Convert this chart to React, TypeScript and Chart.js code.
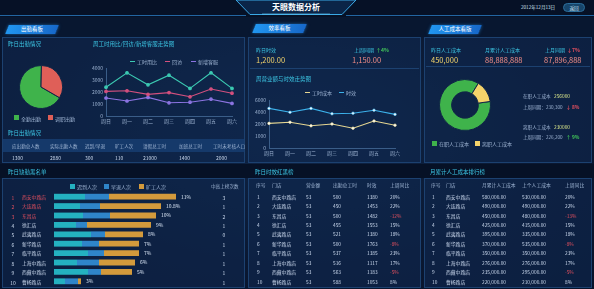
import React, { useEffect, useRef } from "react";
import { Chart, registerables } from "chart.js";

Chart.register(...registerables);

const FONT = '"Noto Sans CJK SC", "Noto Sans", sans-serif';

// ---------- data ----------
const weekDays = ["周日", "周一", "周二", "周三", "周四", "周五", "周六"];
const attSeriesNames = ["工时用比", "回访", "新增客服"];
const workRatio = [2400, 3600, 2600, 3400, 2300, 3600, 2300];
const revisit = [2050, 2100, 1800, 1950, 1600, 2250, 1900];
const newService = [1500, 1250, 1550, 1100, 1150, 1400, 1050];

const pieLabels = ["全勤出勤", "调职出勤"];
const pieValues = [67, 33];

const effSeriesNames = ["工时成本", "时效"];
const laborCost = [4100, 4300, 3700, 4000, 3300, 4500, 3800];
const efficiency = [6600, 5950, 6600, 5700, 5800, 6300, 5600];
const effYTickLabels = ["0", "1000", "2000", "4000", "6000"];

const attHeaders = ["应出勤总人数", "实际出勤人数", "迟到/早退", "旷工人次", "请假总工时", "加班总工时", "工时未考核人口"];
const attValues = ["1300", "2880", "300", "110", "21000", "1400", "2000"];

const storeNames = ["西安中路店", "大连路店", "东昌店", "徐汇店", "武夷路店", "新华路店", "临平路店", "上海中路店", "西藏中路店", "曹杨路店"];
const barSeriesNames = ["迟到人次", "早退人次", "旷工人次"];
const lateCounts = [31, 26, 29, 22, 37, 28, 34, 23, 34, 11];
const earlyCounts = [24, 20, 27, 11, 14, 17, 16, 22, 13, 13];
const absentCounts = [67, 61, 46, 64, 38, 40, 35, 36, 31, 3];
const barPercents = ["11%", "10.8%", "10%", "9%", "8%", "7%", "7%", "6%", "5%", "3%"];
const blacklistTimes = [3, 1, 2, 1, 0, 1, 1, 1, 1, 1];

const effHeaders = ["序号", "门店", "营业额", "出勤总工时", "时效", "上周同比"];
const effRevenue = [53, 53, 53, 53, 53, 53, 53, 53, 53, 53];
const effHours = [500, 450, 500, 455, 521, 500, 537, 516, 563, 588];
const effValues = [1380, 1453, 1482, 1553, 1380, 1763, 1385, 1117, 1183, 1053];
const effYoY = ["20%", "22%", "-12%", "15%", "18%", "-8%", "23%", "17%", "-5%", "8%"];

const costHeaders = ["序号", "门店", "月累计人工成本", "上个人工成本", "上周同比"];
const costMonth = ["580,000.00", "490,000.00", "450,000.00", "425,000.00", "395,000.00", "370,000.00", "350,000.00", "276,000.00", "235,000.00", "220,000.00"];
const costLast = ["530,000.00", "490,000.00", "480,000.00", "415,000.00", "335,000.00", "535,000.00", "350,000.00", "276,000.00", "295,000.00", "210,000.00"];
const costYoY = ["20%", "22%", "-13%", "15%", "18%", "-8%", "23%", "17%", "-5%", "8%"];

const donutLabels = ["在职人工成本", "离职人工成本"];
const donutValues = [86, 14];

// ---------- styles ----------
const C = {
  teal: "#3cc6e4",
  text: "#cbd9ee",
  dim: "#9cb2d1",
  yellow: "#f2d36b",
  pink: "#ef8c86",
  red: "#e5505f",
  green: "#41c259",
  border: "#1c4170",
  panel: "rgba(16,42,82,0.55)",
};
const lineColors = ["#3ccab2", "#d4507e", "#8c74e2"];
const effColors = ["#e6d792", "#3cb1ea"];
const barColors = ["#24b1c0", "#2f85c9", "#d39a3c"];
const pieColors = ["#3fb34b", "#df5f58"];
const donutColors = ["#3fb34b", "#f5d36a"];

const rowY = (i: number) => 196.8 + i * 9.42;

function T({ x, y, s = 5, c = C.text, a = "left", b = false, children }: any) {
  const st: any = {
    position: "absolute",
    top: y,
    fontSize: s,
    color: c,
    lineHeight: 1,
    whiteSpace: "nowrap",
    fontWeight: b ? 700 : 400,
  };
  if (a === "left") {
    st.left = x;
    st.transform = "translateY(-50%)";
  } else if (a === "center") {
    st.left = x;
    st.transform = "translate(-50%,-50%)";
  } else {
    st.right = 594 - x;
    st.transform = "translateY(-50%)";
  }
  return <div style={st}>{children}</div>;
}

function Box({ x, y, w, h, bg = C.panel, border = C.border }: any) {
  return (
    <div
      style={{
        position: "absolute",
        left: x,
        top: y,
        width: w,
        height: h,
        background: bg,
        border: border ? `1px solid ${border}` : "none",
        boxSizing: "border-box",
      }}
    />
  );
}

function Tab({ x, y, w, label }: any) {
  return (
    <>
      <div
        style={{
          position: "absolute",
          left: x,
          top: y,
          width: w,
          height: 9,
          background: "linear-gradient(90deg,#2196f0,#1768c9)",
          transform: "skewX(-22deg)",
          boxShadow: "0 0 3px rgba(40,150,240,0.6)",
        }}
      />
      <T x={x + w / 2} y={y + 4.6} a="center" s={5.5} c="#ffffff">
        {label}
      </T>
    </>
  );
}

function ChartCanvas({ left, top, width, height, make }: any) {
  const ref = useRef<HTMLCanvasElement>(null);
  useEffect(() => {
    const chart = new Chart(ref.current as HTMLCanvasElement, make());
    return () => chart.destroy();
  }, []);
  return (
    <canvas
      ref={ref}
      width={width}
      height={height}
      style={{ position: "absolute", left, top, width, height }}
    />
  );
}

const tickFont = { size: 5, family: FONT };

function makeLeftLine() {
  const series = [workRatio, revisit, newService];
  return {
    type: "line",
    data: {
      labels: weekDays,
      datasets: series.map((d, i) => ({
        label: attSeriesNames[i],
        data: d,
        borderColor: lineColors[i],
        backgroundColor: lineColors[i],
        pointBackgroundColor: lineColors[i],
        borderWidth: 1.1,
        pointRadius: 1.3,
        tension: 0,
      })),
    },
    options: {
      responsive: false,
      animation: false,
      layout: { padding: { left: 0, right: 10, top: 6, bottom: 0 } },
      plugins: { legend: { display: false }, tooltip: { enabled: false } },
      scales: {
        x: {
          grid: { display: false, drawTicks: false },
          border: { color: "#3a5d88" },
          ticks: { color: C.dim, font: tickFont, padding: 2, maxRotation: 0, autoSkip: false },
          afterFit: (s: any) => {
            s.height = 10;
          },
        },
        y: {
          min: 0,
          max: 4000,
          grid: { display: false, drawTicks: false },
          border: { color: "#3a5d88" },
          ticks: {
            stepSize: 1000,
            color: C.dim,
            font: tickFont,
            padding: 3,
            callback: (v: any) => String(v),
          },
          afterFit: (s: any) => {
            s.width = 18;
          },
        },
      },
    },
  };
}

function makeRightLine() {
  const series = [laborCost, efficiency];
  return {
    type: "line",
    data: {
      labels: weekDays,
      datasets: series.map((d, i) => ({
        label: effSeriesNames[i],
        data: d,
        borderColor: effColors[i],
        backgroundColor: effColors[i],
        pointBackgroundColor: "#ffffff",
        pointBorderColor: effColors[i],
        borderWidth: 1.1,
        pointRadius: 1.3,
        pointBorderWidth: 0.6,
        tension: 0,
      })),
    },
    options: {
      responsive: false,
      animation: false,
      layout: { padding: { left: 0, right: 25, top: 6, bottom: 0 } },
      plugins: { legend: { display: false }, tooltip: { enabled: false } },
      scales: {
        x: {
          grid: { display: false, drawTicks: false },
          border: { color: "#3a5d88" },
          ticks: { color: C.dim, font: tickFont, padding: 2, maxRotation: 0, autoSkip: false },
          afterFit: (s: any) => {
            s.height = 9;
          },
        },
        y: {
          min: 0,
          max: 8000,
          grid: { display: false, drawTicks: false },
          border: { color: "#3a5d88" },
          ticks: {
            stepSize: 2000,
            color: C.dim,
            font: tickFont,
            padding: 3,
            callback: (_v: any, i: number) => effYTickLabels[i],
          },
          afterFit: (s: any) => {
            s.width = 19;
          },
        },
      },
    },
  };
}

function makePie() {
  return {
    type: "pie",
    data: {
      labels: pieLabels,
      datasets: [
        { data: pieValues, backgroundColor: pieColors, borderColor: "#102647", borderWidth: 1 },
      ],
    },
    options: {
      responsive: false,
      animation: false,
      rotation: 120,
      layout: { padding: 0 },
      plugins: { legend: { display: false }, tooltip: { enabled: false } },
    },
  };
}

function makeDonut() {
  return {
    type: "doughnut",
    data: {
      labels: donutLabels,
      datasets: [
        { data: donutValues, backgroundColor: donutColors, borderColor: "#102647", borderWidth: 1 },
      ],
    },
    options: {
      responsive: false,
      animation: false,
      rotation: 82,
      cutout: "52%",
      layout: { padding: 0 },
      plugins: { legend: { display: false }, tooltip: { enabled: false } },
    },
  };
}

const barLabelPlugin = {
  id: "barLabels",
  afterDatasetsDraw(chart: any) {
    const ctx = chart.ctx;
    const meta = chart.getDatasetMeta(chart.data.datasets.length - 1);
    ctx.save();
    ctx.font = `5px ${FONT}`;
    ctx.fillStyle = "#d8e4f4";
    ctx.textBaseline = "middle";
    meta.data.forEach((bar: any, i: number) => {
      ctx.fillText(barPercents[i], bar.x + 5, bar.y);
    });
    ctx.restore();
  },
};

function makeBars() {
  const series = [lateCounts, earlyCounts, absentCounts];
  return {
    type: "bar",
    data: {
      labels: storeNames,
      datasets: series.map((d, i) => ({
        label: barSeriesNames[i],
        data: d,
        backgroundColor: barColors[i],
        barPercentage: 0.62,
        categoryPercentage: 1,
      })),
    },
    options: {
      indexAxis: "y",
      responsive: false,
      animation: false,
      layout: { padding: 0 },
      plugins: { legend: { display: false }, tooltip: { enabled: false } },
      scales: {
        x: { stacked: true, display: false, min: 0, max: 150 },
        y: { stacked: true, display: false },
      },
    },
    plugins: [barLabelPlugin],
  };
}

function Legend({ items }: any) {
  return (
    <>
      {items.map((it: any, i: number) => (
        <React.Fragment key={i}>
          {it.line ? (
            <div
              style={{
                position: "absolute",
                left: it.x,
                top: it.y - 0.5,
                width: 5,
                height: 1,
                background: it.color,
              }}
            />
          ) : (
            <div
              style={{
                position: "absolute",
                left: it.x,
                top: it.y - 2.5,
                width: 5,
                height: 5,
                background: it.color,
              }}
            />
          )}
          <T x={it.x + 7} y={it.y} s={5} c={C.dim}>
            {it.label}
          </T>
        </React.Fragment>
      ))}
    </>
  );
}

export default function App() {
  const yoyColor = (v: string) => (v.startsWith("-") ? C.red : C.text);
  return (
    <div
      style={{
        position: "fixed",
        left: 0,
        top: 0,
        width: 594,
        height: 289,
        overflow: "hidden",
        background: "radial-gradient(ellipse at 50% 45%, #0f2547 0%, #0a1832 60%, #07122a 100%)",
        fontFamily: FONT,
        color: C.text,
      }}
    >
      {/* header band */}
      <div style={{ position: "absolute", left: 0, top: 0, width: 594, height: 17, background: "#061126" }} />
      <div style={{ position: "absolute", left: 0, top: 17, width: 594, height: 20, background: "#081730" }} />
      <svg width={594} height={20} style={{ position: "absolute", left: 0, top: 0 }}>
        <line x1={0} y1={15.5} x2={246} y2={15.5} stroke="#2a7bc0" strokeWidth={1} opacity={0.8} />
        <line x1={346} y1={15.5} x2={594} y2={15.5} stroke="#2a7bc0" strokeWidth={1} opacity={0.8} />
        <polygon points="236,0 250,14.5 342,14.5 356,0" fill="#0b2548" stroke="#3aa9e6" strokeWidth={1} />
        <line x1={262} y1={14} x2={330} y2={14} stroke="#6fd3ff" strokeWidth={1} opacity={0.6} />
      </svg>
      <T x={296} y={7} a="center" s={8} c="#ffffff" b>
        天眼数据分析
      </T>
      <T x={521} y={7} s={4.6} c="#d6e2f2">
        2012年12月13日
      </T>
      <div
        style={{
          position: "absolute",
          left: 563,
          top: 3,
          width: 22,
          height: 9,
          borderRadius: 5,
          background: "#17456b",
          border: "1px solid #2c6d9a",
          boxSizing: "border-box",
        }}
      />
      <T x={574} y={7.6} a="center" s={4.6} c="#cfe3f5">
        返回
      </T>

      {/* tabs */}
      <Tab x={7} y={25} w={50} label="出勤看板" />
      <Tab x={254} y={24} w={51} label="效率看板" />
      <Tab x={430} y={25} w={50} label="人工成本看版" />

      {/* top panels */}
      <Box x={2} y={37} w={243} h={126} />
      <Box x={248} y={37} w={173} h={126} />
      <Box x={424} y={37} w={168} h={126} />

      {/* bottom header band */}
      <div style={{ position: "absolute", left: 0, top: 164, width: 594, height: 14, background: "#061126" }} />
      <Box x={2} y={178} w={243} h={110} />
      <Box x={248} y={178} w={173} h={110} />
      <Box x={424} y={178} w={168} h={110} />

      {/* ===== left top ===== */}
      <T x={8} y={45} s={5.5} c={C.teal}>
        昨日出勤情况
      </T>
      <ChartCanvas left={19} top={65} width={44} height={44} make={makePie} />
      <Legend
        items={[
          { x: 14, y: 117.5, color: pieColors[0], label: pieLabels[0] },
          { x: 48, y: 117.5, color: pieColors[1], label: pieLabels[1] },
        ]}
      />

      <T x={93} y={45} s={5.5} c={C.teal}>
        周工时用比/回访/新增客服走势图
      </T>
      <Legend
        items={[
          { x: 130, y: 61, color: lineColors[0], label: attSeriesNames[0], line: true },
          { x: 165, y: 61, color: lineColors[1], label: attSeriesNames[1], line: true },
          { x: 191, y: 61, color: lineColors[2], label: attSeriesNames[2], line: true },
        ]}
      />
      <ChartCanvas left={88} top={62} width={154} height={64} make={makeLeftLine} />

      <T x={8} y={134} s={5.5} c={C.teal}>
        昨日出勤情况
      </T>
      <div style={{ position: "absolute", left: 3, top: 139, width: 241, height: 13, background: "#15396a" }} />
      {attHeaders.map((h, i) => (
        <T key={"ah" + i} x={[12, 50, 85, 115, 143, 179, 213][i]} y={145.5} s={4.6} c={C.dim}>
          {h}
        </T>
      ))}
      {attValues.map((v, i) => (
        <T key={"av" + i} x={[12, 50, 85, 115, 143, 179, 216][i]} y={157} s={5} c={C.text}>
          {v}
        </T>
      ))}

      {/* ===== middle top ===== */}
      <T x={256} y={48.5} s={5} c={C.teal}>
        昨日时效
      </T>
      <T x={256} y={60} s={7.5} c={C.yellow}>
        1,200.00
      </T>
      <T x={354} y={48.5} s={5} c={C.teal}>
        上周同期
      </T>
      <T x={376} y={48.5} s={5} c={C.green} b>
        ↑4%
      </T>
      <T x={352} y={60} s={7.5} c={C.pink}>
        1,150.00
      </T>
      <div style={{ position: "absolute", left: 250, top: 68, width: 169, height: 1, background: "#1c4170" }} />
      <T x={256} y={80} s={5.5} c={C.teal}>
        周营业额与时效走势图
      </T>
      <Legend
        items={[
          { x: 305, y: 92, color: effColors[0], label: effSeriesNames[0], line: true },
          { x: 339, y: 92, color: effColors[1], label: effSeriesNames[1], line: true },
        ]}
      />
      <ChartCanvas left={250} top={94} width={170} height={63} make={makeRightLine} />

      {/* ===== right top ===== */}
      <T x={431} y={49} s={5} c={C.teal}>
        昨日人工成本
      </T>
      <T x={431} y={59.5} s={7.5} c={C.yellow}>
        450,000
      </T>
      <T x={485} y={49} s={5} c={C.teal}>
        月累计人工成本
      </T>
      <T x={485} y={59.5} s={7.5} c={C.pink}>
        88,888,888
      </T>
      <T x={545} y={49} s={5} c={C.teal}>
        上月同期
      </T>
      <T x={567} y={49} s={5} c={C.red} b>
        ↓7%
      </T>
      <T x={544} y={59.5} s={7.5} c={C.pink}>
        87,896,888
      </T>
      <div style={{ position: "absolute", left: 426, top: 66, width: 164, height: 1, background: "#1c4170" }} />
      <ChartCanvas left={439} top={79} width={52} height={52} make={makeDonut} />
      <Legend
        items={[
          { x: 432, y: 143, color: donutColors[0], label: donutLabels[0] },
          { x: 475, y: 143, color: donutColors[1], label: donutLabels[1] },
        ]}
      />
      <T x={523} y={96} s={4.6} c={C.dim}>
        在职人工成本
      </T>
      <T x={554} y={96} s={4.8} c="#d8e58a">
        256000
      </T>
      <T x={523} y={107} s={4.6} c={C.dim}>
        上周同期：230,300
      </T>
      <T x={566} y={107} s={4.8} c={C.red} b>
        ↓ 8%
      </T>
      <T x={523} y={126.5} s={4.6} c={C.dim}>
        离职人工成本
      </T>
      <T x={554} y={126.5} s={4.8} c="#d8e58a">
        230000
      </T>
      <T x={523} y={137} s={4.6} c={C.dim}>
        上周同期：226,200
      </T>
      <T x={566} y={137} s={4.8} c={C.green} b>
        ↑ 9%
      </T>

      {/* ===== bottom headers ===== */}
      <T x={8} y={172.5} s={5.5} c={C.teal}>
        昨日缺勤黑名单
      </T>
      <T x={255} y={172.5} s={5.5} c={C.teal}>
        昨日时效红黑榜
      </T>
      <T x={430} y={172.5} s={5.5} c={C.teal}>
        月累计人工成本排行榜
      </T>

      {/* ===== left bottom: blacklist ===== */}
      <Legend
        items={[
          { x: 70, y: 186, color: barColors[0], label: barSeriesNames[0] },
          { x: 104, y: 186, color: barColors[1], label: barSeriesNames[1] },
          { x: 139, y: 186, color: barColors[2], label: barSeriesNames[2] },
        ]}
      />
      <T x={211} y={186} s={4.6} c={C.dim}>
        中高上榜次数
      </T>
      {storeNames.map((n, i) => (
        <React.Fragment key={"bl" + i}>
          <T x={13} y={rowY(i)} a="center" s={5} c={i < 3 ? C.red : C.text}>
            {i + 1}
          </T>
          <T x={22} y={rowY(i)} s={4.8} c={i < 3 ? C.red : C.text}>
            {n}
          </T>
          <T x={224} y={rowY(i)} a="center" s={5} c={C.text}>
            {blacklistTimes[i]}
          </T>
        </React.Fragment>
      ))}
      <ChartCanvas left={54} top={192} width={150} height={94} make={makeBars} />

      {/* ===== middle bottom table ===== */}
      {effHeaders.map((h, i) => (
        <T key={"eh" + i} x={[256, 272, 306, 333, 367, 390][i]} y={185} s={4.8} c={C.dim}>
          {h}
        </T>
      ))}
      {storeNames.map((n, i) => (
        <React.Fragment key={"er" + i}>
          <T x={257} y={rowY(i)} s={4.8}>
            {i + 1}
          </T>
          <T x={272} y={rowY(i)} s={4.8}>
            {n}
          </T>
          <T x={306} y={rowY(i)} s={4.8}>
            {effRevenue[i]}
          </T>
          <T x={333} y={rowY(i)} s={4.8}>
            {effHours[i]}
          </T>
          <T x={367} y={rowY(i)} s={4.8}>
            {effValues[i]}
          </T>
          <T x={390} y={rowY(i)} s={4.8} c={yoyColor(effYoY[i])}>
            {effYoY[i]}
          </T>
        </React.Fragment>
      ))}

      {/* ===== right bottom table ===== */}
      {costHeaders.map((h, i) => (
        <T key={"ch" + i} x={[431, 446, 482, 522, 565][i]} y={185} s={4.8} c={C.dim}>
          {h}
        </T>
      ))}
      {storeNames.map((n, i) => (
        <React.Fragment key={"cr" + i}>
          <T x={432} y={rowY(i)} s={4.8}>
            {i + 1}
          </T>
          <T x={446} y={rowY(i)} s={4.8}>
            {n}
          </T>
          <T x={482} y={rowY(i)} s={4.8}>
            {costMonth[i]}
          </T>
          <T x={522} y={rowY(i)} s={4.8}>
            {costLast[i]}
          </T>
          <T x={565} y={rowY(i)} s={4.8} c={yoyColor(costYoY[i])}>
            {costYoY[i]}
          </T>
        </React.Fragment>
      ))}
    </div>
  );
}
